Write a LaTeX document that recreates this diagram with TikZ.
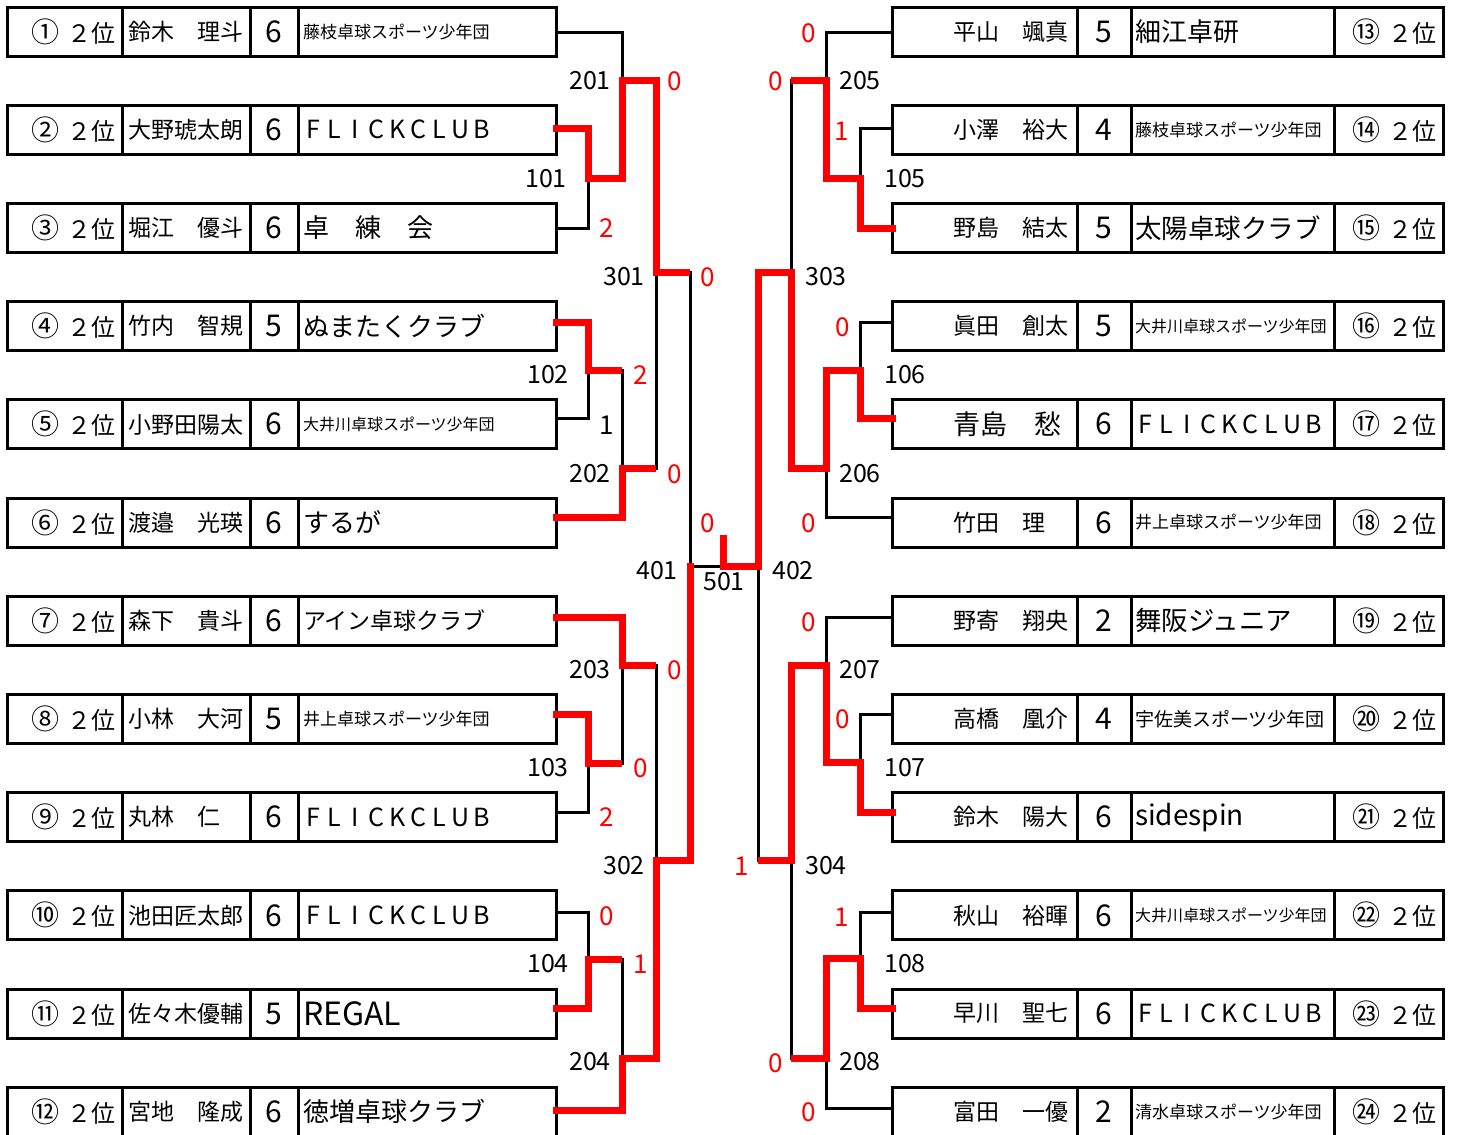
\documentclass[tikz,border=0pt]{standalone}
\usepackage{fontspec}
\setmainfont{Noto Sans CJK JP}
\usetikzlibrary{positioning}
\newcommand\wl[1]{\makebox[21pt]{#1}}
\newcommand\flick{\fontsize{25}{25}\selectfont\wl{F}\wl{L}\wl{I}\wl{C}\wl{K}\wl{C}\wl{L}\wl{U}\wl{B}}
\tikzset{
  cell/.style={draw,line width=3pt,minimum height=49pt,inner sep=0pt,outer sep=0pt,anchor=north west},
  lrk/.style={cell,text width=101pt,inner xsep=7pt,align=right,font=\fontsize{24}{24}\selectfont},
  lnm/.style={cell,text width=116pt,inner xsep=6pt,align=left,font=\fontsize{23}{23}\selectfont},
  lgr/.style={cell,minimum width=48pt,font=\fontsize{30}{30}\selectfont},
  ltm/.style={cell,text width=248pt,inner xsep=5pt,align=left},
  rnm/.style={cell,text width=175pt,inner xsep=5pt,align=left},
  rgr/.style={cell,minimum width=54pt,font=\fontsize{30}{30}\selectfont},
  rtm/.style={cell,text width=195pt,inner xsep=4pt,align=left},
  rrk/.style={cell,text width=95pt,inner xsep=7pt,align=right,font=\fontsize{24}{24}\selectfont},
  win/.style={draw=red,line width=7pt,line cap=rect},
  lose/.style={draw=black,line width=3pt,line cap=rect},
  rnd/.style={font=\fontsize{25}{25}\selectfont,inner sep=0pt},
  score/.style={rnd,font=\fontsize{26}{26}\selectfont,text=red},
}
\newcommand\rank[1]{{\fontsize{28}{28}\selectfont#1}\hspace{0.3em}２位}
\begin{document}
\begin{tikzpicture}[x=1pt,y=-1pt]
\useasboundingbox (0,0) rectangle (1457,1135);
\clip (0,0) rectangle (1457,1135);
\fill[white] (0,0) rectangle (1457,1135);

\foreach \i/\rnk/\pname/\grd/\team/\tsz/\lny in {
  1/①/鈴木　理斗/6/藤枝卓球スポーツ少年団/17/32,
  2/②/大野琥太朗/6/\flick/21/128,
  3/③/堀江　優斗/6/卓　練　会/26/228,
  4/④/竹内　智規/5/ぬまたくクラブ/26/322,
  5/⑤/小野田陽太/6/大井川卓球スポーツ少年団/16/418,
  6/⑥/渡邉　光瑛/6/するが/26/517,
  7/⑦/森下　貴斗/6/アイン卓球クラブ/23/617,
  8/⑧/小林　大河/5/井上卓球スポーツ少年団/17/714,
  9/⑨/丸林　仁/6/\flick/21/812,
  10/⑩/池田匠太郎/6/\flick/21/912,
  11/⑪/佐々木優輔/5/REGAL/32/1008,
  12/⑫/宮地　隆成/6/徳増卓球クラブ/26/1110}{
  \pgfmathsetmacro\rowtop{7+98.2*(\i-1)}
  \node[lrk] (rk\i) at (7,\rowtop) {\rank{\rnk}};
  \node[lnm] (nm\i) at (rk\i.north east) {\pname};
  \node[lgr] (gr\i) at (nm\i.north east) {\grd};
  \node[ltm,font=\fontsize{\tsz}{\tsz}\selectfont] (tm\i) at (gr\i.north east) {\team};
  \coordinate (e\i) at (tm\i.east |- 0,\lny);
}

\foreach \i/\pname/\nsz/\grd/\team/\tsz/\rnk/\lny in {
  13/平山　颯真/23/5/細江卓研/26/⑬/32,
  14/小澤　裕大/23/4/藤枝卓球スポーツ少年団/17/⑭/128,
  15/野島　結太/23/5/太陽卓球クラブ/26.5/⑮/228,
  16/眞田　創太/23/5/大井川卓球スポーツ少年団/16/⑯/322,
  17/青島　愁/27/6/\flick/21/⑰/418,
  18/竹田　理/23/6/井上卓球スポーツ少年団/17/⑱/517,
  19/野寄　翔央/23/2/舞阪ジュニア/26.5/⑲/617,
  20/高橋　凰介/23/4/宇佐美スポーツ少年団/19/⑳/714,
  21/鈴木　陽大/23/6/sidespin/28/㉑/812,
  22/秋山　裕暉/23/6/大井川卓球スポーツ少年団/16/㉒/912,
  23/早川　聖七/23/6/\flick/21/㉓/1008,
  24/富田　一優/23/2/清水卓球スポーツ少年団/17/㉔/1108}{
  \pgfmathsetmacro\rowtop{7+98.2*(\i-13)}
  \node[rnm,font=\fontsize{\nsz}{\nsz}\selectfont] (nm\i) at (892,\rowtop) {\hspace*{56pt}\pname};
  \node[rgr] (gr\i) at (nm\i.north east) {\grd};
  \node[rtm,font=\fontsize{\tsz}{\tsz}\selectfont] (tm\i) at (gr\i.north east) {\team};
  \node[rrk] (rk\i) at (tm\i.north east) {\rank{\rnk}};
  \coordinate (e\i) at (nm\i.west |- 0,\lny);
}

\foreach \n/\x/\y in {101/588/178,201/622/80,102/588/370,202/622/468,301/656/272,
  103/588/763,203/622/665,104/588/959,204/622/1058,302/656/860,
  401/690/566,501/723/566,402/758/566,
  105/860/178,205/826/80,106/860/370,206/826/468,303/791/272,
  107/860/762,207/826/665,108/860/958,208/826/1058,304/791/860}
  \coordinate (j\n) at (\x,\y);
\coordinate (top) at (723,538);

\foreach \a/\b in {e1/j201,e3/j101,e5/j102,j102/j202,j202/j301,e9/j103,j103/j203,
  e10/j104,j104/j204,j203/j302,j301/j401,
  e13/j205,e14/j105,e16/j106,e18/j206,j205/j303,e19/j207,e20/j107,
  e22/j108,e24/j208,j208/j304,j304/j402}
  \draw[lose] (\a) -| (\b);
\draw[lose] (j401) -- (j501);
\foreach \a/\b in {e2/j101,j101/j201,e4/j102,e6/j202,j201/j301,e7/j203,e8/j103,
  e11/j104,e12/j204,j204/j302,j302/j401,
  e15/j105,j105/j205,e17/j106,j106/j206,j206/j303,j303/j402,e21/j107,
  j107/j207,j207/j304,e23/j108,j108/j208}
  \draw[win] (\a) -| (\b);
\draw[win] (j402) -- (j501) -- (top);
\foreach \a/\b in {j102/j202,j202/j301,j103/j203,j104/j204,j203/j302,j301/j401,
  j205/j303,j208/j304,j304/j402}
  \draw[win,line cap=butt] (\a) -- (\a -| \b);

\foreach \t/\x/\y in {201/590/81,101/546/179,301/624/277,102/548/375,202/590/474,
  401/657/571,501/724/582,402/793/571,203/590/670,103/548/768,302/624/866,
  104/548/964,204/590/1062,205/860/81,105/905/179,303/826/277,106/905/375,
  206/860/474,207/860/670,107/905/768,304/826/866,108/905/964,208/860/1062}
  \node[rnd] (m\t) at (\x,\y) {\t};

\foreach \v/\c/\x/\y [count=\k] in {0/red/675/81,2/red/607/228,0/red/708/277,
  2/red/641/375,1/black/607/425,0/red/675/474,0/red/708/523,0/red/675/670,
  0/red/641/768,2/red/607/817,0/red/607/916,1/red/641/964,1/red/742/866,
  0/red/809/33,0/red/776/81,1/red/842/131,0/red/843/327,0/red/809/523,
  0/red/809/622,0/red/843/719,1/red/842/917,0/red/776/1063,0/red/809/1112}
  \node[score,text=\c] (s\k) at (\x,\y) {\v};
\end{tikzpicture}
\end{document}
